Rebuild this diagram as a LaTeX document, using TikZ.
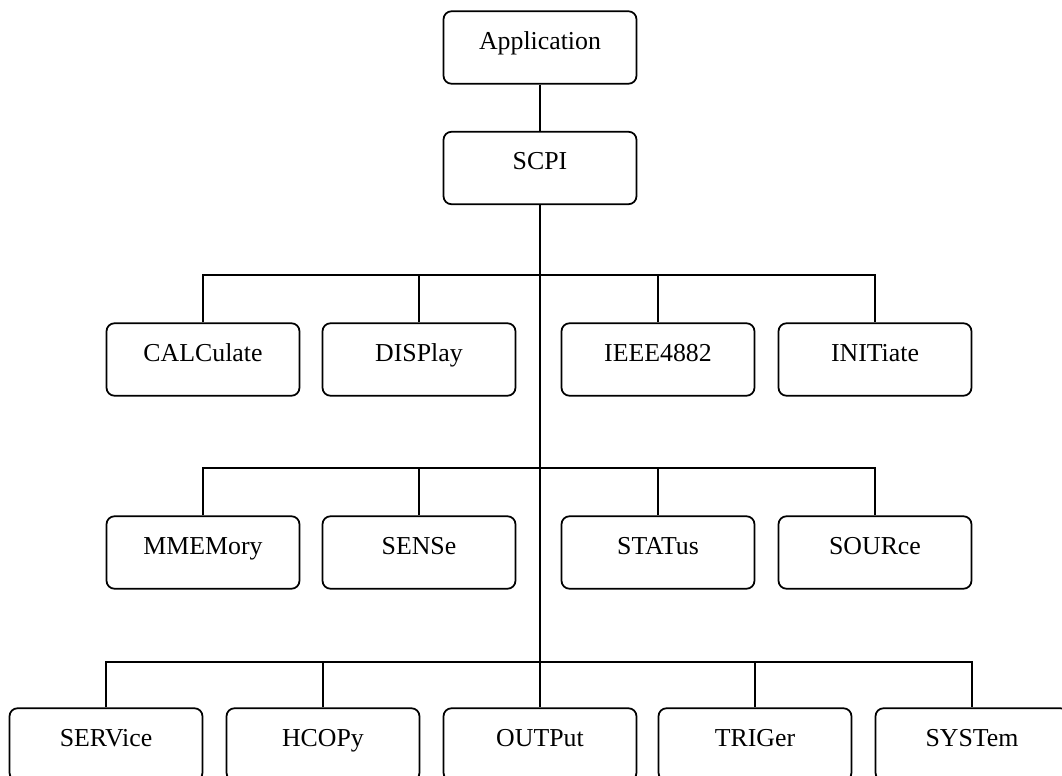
\documentclass[tikz,border=0pt]{standalone}
\usepackage{fontspec}
\setmainfont{Liberation Serif}
\usetikzlibrary{positioning}
\tikzstyle{every picture}+=[x=0.02cm,y=-0.02cm]
\tikzstyle{blk} = [draw, rounded corners=0.16cm, line width=1pt, minimum width=3.86cm, minimum height=1.45cm, inner sep=0pt, text height=0.32cm, text depth=0.24cm, font=\fontsize{14.7}{17}\selectfont]
\tikzstyle{wire} = [line width=1pt]

\begin{document}
\begin{tikzpicture}
  	   	\useasboundingbox (0,0) rectangle (1062,776);
  	   	\clip (0,0) rectangle (1062,776);
  	   	\node[blk] (app) at (540,47.5) {Application};
  	   	\node[blk] (scpi) at (540,168) {SCPI};
  	   	
  	   	\node[blk] (calc) at (203,359.5) {CALCulate};
  	   	\node[blk] (disp) at (419,359.5) {DISPlay};
  	   	\node[blk] (ieee) at (658,359.5) {IEEE4882};
  	   	\node[blk] (init) at (875,359.5) {INITiate};
  	   	
  	   	\node[blk] (mmem) at (203,552.5) {MMEMory};
  	   	\node[blk] (sens) at (419,552.5) {SENSe};
  	   	\node[blk] (stat) at (658,552.5) {STATus};
  	   	\node[blk] (sour) at (875,552.5) {SOURce};
  	   	
  	   	\node[blk] (serv) at (106,744.5) {SERVice};
  	   	\node[blk] (hcop) at (323,744.5) {HCOPy};
  	   	\node[blk] (outp) at (540,744.5) {OUTPut};
  	   	\node[blk] (trig) at (755,744.5) {TRIGer};
  	   	\node[blk] (syst) at (972,744.5) {SYSTem};
  	   	
  	   	\coordinate (j1) at (540,275);
  	   	\coordinate (j2) at (540,468);
  	   	\coordinate (j3) at (540,662);
  	   	
  	   	\draw[wire] (app) -- (scpi);
  	   	\draw[wire] (scpi) -- (outp);
  	   	%\draw[wire] (scpi) -- (j3);
  	   	\draw[wire] (calc) |- (j1) -| (init);
  	   	\draw[wire] (disp) -- (disp |- j1);
  	   	\draw[wire] (ieee) -- (ieee |- j1);
  	   	\draw[wire] (mmem) |- (j2) -| (sour);
  	   	\draw[wire] (sens) -- (sens |- j2);
  	   	\draw[wire] (stat) -- (stat |- j2);
  	   	\draw[wire] (serv) |- (j3) -| (syst);
  	   	\draw[wire] (hcop) -- (hcop |- j3);
  	   	\draw[wire] (trig) -- (trig |- j3);
  	   \end{tikzpicture}
\end{document}
